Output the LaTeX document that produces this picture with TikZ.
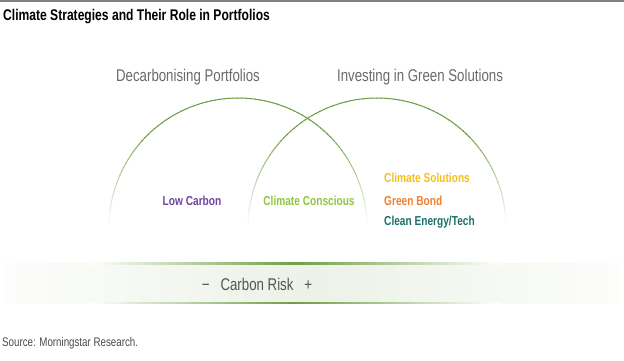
\documentclass[tikz,border=0pt]{standalone}
\usepackage{fontspec}
\setmainfont{Liberation Sans}[FakeStretch=0.78]
\usepackage{xcolor}
\usepackage{tikz}
\usetikzlibrary{positioning}
\definecolor{arcgreen}{HTML}{6E9E45}
\definecolor{textgray}{HTML}{6A6A6A}
\definecolor{lowpurple}{HTML}{6E44A0}
\definecolor{consgreen}{HTML}{8DC63F}
\definecolor{solyellow}{HTML}{F2C21B}
\definecolor{bondorange}{HTML}{F07F2F}
\definecolor{techteal}{HTML}{1D6F6B}
\definecolor{bandfill}{HTML}{ECF2E7}
\tikzset {
  % headings above each circle
  venn/.style = {text=textgray, font=\fontsize{17}{20}\selectfont, inner sep=0pt},
  % strategy labels inside the circles
  strategy/.style = {font=\bfseries\fontsize{13}{15}\selectfont, inner sep=0pt},
  % small print
  note/.style = {text=textgray!70!black, font=\fontsize{12.5}{15}\selectfont, inner sep=0pt, anchor=west},
}
\begin{document}
\begin{tikzpicture}[x=1pt, y=-1pt]
  \useasboundingbox (0,0) rectangle (624,360);
  \draw[gray, line width=1.5pt] (0,0.75) -- (624,0.75);
  \node[anchor=west, inner sep=0pt, font=\bfseries\fontsize{15.5}{18}\selectfont] (title) at (3,17) {Climate Strategies and Their Role in Portfolios};

  % the two half circles, fading out at their feet
  \foreach \cx/\nm in {238/left, 377/right} {
    \coordinate (\nm) at (\cx,227);
    \foreach \a in {0,2,...,178} {
      \pgfmathsetmacro\t{min(100,min(\a,178-\a)*2.2)}
      \draw[arcgreen!\t!white, line width=1pt]
        ([shift={(\nm)}]-\a:129) arc[start angle=-\a, end angle=-\a-2.4, radius=129];
    }
  }

  \node[venn] (decarb) at (188,77) {Decarbonising Portfolios};
  \node[venn] (green) at (420,77) {Investing in Green Solutions};

  \node[strategy, text=lowpurple] (low) at (192,201) {Low Carbon};
  \node[strategy, text=consgreen] (conscious) at (309,201) {Climate Conscious};
  \node[strategy, text=solyellow, anchor=west] (sol) at (384,178) {Climate Solutions};
  \node[strategy, text=bondorange, anchor=west] (bond) at (384,201) {Green Bond};
  \node[strategy, text=techteal, anchor=west] (tech) at (384,222) {Clean Energy/Tech};

  % carbon risk band
  \shade[left color=bandfill!15, right color=bandfill!15, middle color=bandfill] (4,263) rectangle (620,303);
  \shade[left color=white, right color=white, middle color=arcgreen] (90,262.5) rectangle (500,264);
  \shade[left color=white, right color=white, middle color=arcgreen] (90,302) rectangle (500,303.5);
  \node[venn, text=textgray!80!black] (risk) at (257,284) {−\hspace{11pt}Carbon Risk\hspace{11pt}+};

  \node[note] (source) at (2,343) {Source: Morningstar Research.};
\end{tikzpicture}
\end{document}
